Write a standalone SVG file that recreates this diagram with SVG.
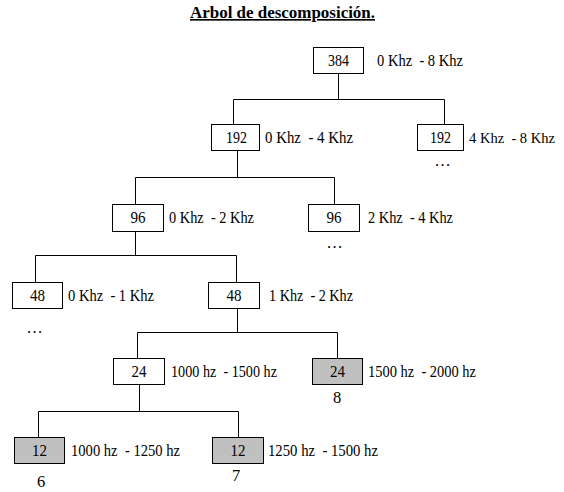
<svg xmlns="http://www.w3.org/2000/svg" width="564" height="492" viewBox="0 0 564 492">
<style>
text{white-space:pre;fill:#000}
.title{font-weight:bold;text-decoration:underline}
.num{text-anchor:middle}
.box{fill:#fff;stroke:#000;stroke-width:1}
.gray{fill:#c0c0c0}
#connectors path{fill:none;stroke:#000;stroke-width:1}
</style>
<rect width="564" height="492" fill="#fff"/>
<g font-family="Liberation Serif, Times New Roman, serif" font-size="16.5">
<text class="title" x="190" y="18" textLength="185" lengthAdjust="spacingAndGlyphs">Arbol de descomposición.</text>
<g id="connectors">
<path d="M338.5 73V99.5M233.5 124V99.5H444.5V124"/>
<path d="M237.5 150V177.5M135.5 204V177.5H334.5V204"/>
<path d="M135.5 231V255.5M35.5 282V255.5H236.5V282"/>
<path d="M237.5 308V332.5M137.5 358V332.5H337.5V358"/>
<path d="M139.5 384V411.5M38.5 437V411.5H238.5V437"/>
</g>
<g id="n384"><rect class="box" x="313.5" y="47.5" width="50" height="26"/><text class="num" x="338.5" y="66" textLength="21" lengthAdjust="spacingAndGlyphs">384</text><text x="377" y="66" textLength="86" lengthAdjust="spacingAndGlyphs">0 Khz  - 8 Khz</text></g>
<g id="n192a"><rect class="box" x="211.5" y="124.5" width="48" height="26"/><text class="num" x="236.5" y="143" textLength="21" lengthAdjust="spacingAndGlyphs">192</text><text x="265" y="143" textLength="88" lengthAdjust="spacingAndGlyphs">0 Khz  - 4 Khz</text></g>
<g id="n192b"><rect class="box" x="417.5" y="124.5" width="46" height="26"/><text class="num" x="440.5" y="143" textLength="21" lengthAdjust="spacingAndGlyphs">192</text><text x="469" y="143" font-size="15" textLength="86" lengthAdjust="spacingAndGlyphs">4 Khz  - 8 Khz</text><text x="435" y="166" textLength="15" lengthAdjust="spacing">...</text></g>
<g id="n96a"><rect class="box" x="112.5" y="204.5" width="51" height="27"/><text class="num" x="138" y="223" textLength="15" lengthAdjust="spacingAndGlyphs">96</text><text x="169" y="223" textLength="85" lengthAdjust="spacingAndGlyphs">0 Khz  - 2 Khz</text></g>
<g id="n96b"><rect class="box" x="308.5" y="204.5" width="51" height="27"/><text class="num" x="334" y="223" textLength="15" lengthAdjust="spacingAndGlyphs">96</text><text x="368" y="223" textLength="85" lengthAdjust="spacingAndGlyphs">2 Khz  - 4 Khz</text><text x="327" y="248" textLength="15" lengthAdjust="spacing">...</text></g>
<g id="n48a"><rect class="box" x="12.5" y="282.5" width="50" height="26"/><text class="num" x="37.5" y="301" textLength="15" lengthAdjust="spacingAndGlyphs">48</text><text x="68" y="301" textLength="86" lengthAdjust="spacingAndGlyphs">0 Khz  - 1 Khz</text><text x="27" y="333" textLength="15" lengthAdjust="spacing">...</text></g>
<g id="n48b"><rect class="box" x="208.5" y="282.5" width="51" height="26"/><text class="num" x="234" y="301" textLength="15" lengthAdjust="spacingAndGlyphs">48</text><text x="269" y="301" textLength="84" lengthAdjust="spacingAndGlyphs">1 Khz  - 2 Khz</text></g>
<g id="n24a"><rect class="box" x="113.5" y="358.5" width="51" height="26"/><text class="num" x="139" y="377" textLength="15" lengthAdjust="spacingAndGlyphs">24</text><text x="171" y="377" textLength="106" lengthAdjust="spacingAndGlyphs">1000 hz  - 1500 hz</text></g>
<g id="n24b"><rect class="box gray" x="312.5" y="358.5" width="50" height="26"/><text class="num" x="337.5" y="377" textLength="15" lengthAdjust="spacingAndGlyphs">24</text><text x="368" y="377" textLength="108" lengthAdjust="spacingAndGlyphs">1500 hz  - 2000 hz</text><text class="num" x="337" y="403">8</text></g>
<g id="n12a"><rect class="box gray" x="14.5" y="437.5" width="50" height="26"/><text class="num" x="39.5" y="456" textLength="15" lengthAdjust="spacingAndGlyphs">12</text><text x="71" y="456" textLength="109" lengthAdjust="spacingAndGlyphs">1000 hz  - 1250 hz</text><text class="num" x="41" y="487">6</text></g>
<g id="n12b"><rect class="box gray" x="212.5" y="437.5" width="51" height="26"/><text class="num" x="238" y="456" textLength="15" lengthAdjust="spacingAndGlyphs">12</text><text x="268" y="456" textLength="110" lengthAdjust="spacingAndGlyphs">1250 hz  - 1500 hz</text><text class="num" x="236" y="481">7</text></g>
</g>
</svg>
